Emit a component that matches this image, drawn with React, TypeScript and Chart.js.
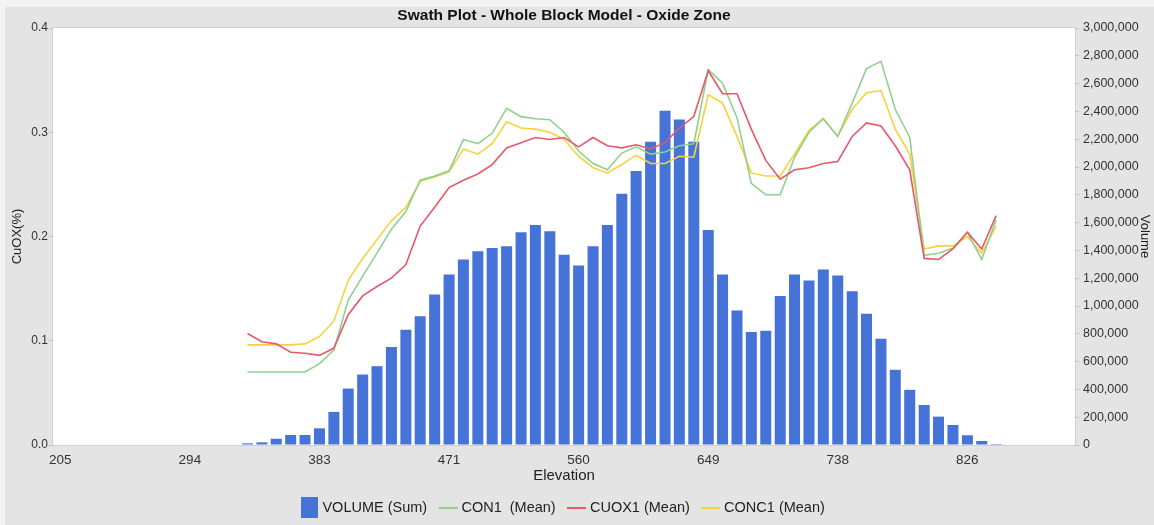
import { useEffect, useRef } from 'react';
import { Chart, registerables } from 'chart.js';

Chart.register(...registerables);

// Bin centre elevations (m)
const ELEVATION = [
  333.2, 343.1, 352.9, 362.8, 372.6, 382.5, 392.4, 402.2, 412.1, 421.9,
  431.8, 441.7, 451.5, 461.4, 471.3, 481.1, 491.0, 500.8, 510.7, 520.6,
  530.4, 540.3, 550.1, 560.0, 569.9, 579.7, 589.6, 599.4, 609.3, 619.2,
  629.0, 638.9, 648.8, 658.6, 668.5, 678.3, 688.2, 698.1, 707.9, 717.8,
  727.6, 737.5, 747.4, 757.2, 767.1, 776.9, 786.8, 796.7, 806.5, 816.4,
  826.3, 836.1, 846.0,
];

// Summed block volume per bin
const VOLUME_SUM = [
  12000, 19000, 45000, 72000, 72000, 120000, 238000, 406000, 507000, 567000,
  705000, 830000, 926000, 1082000, 1226000, 1334000, 1393000, 1418000, 1429000, 1530000,
  1582000, 1538000, 1369000, 1291000, 1429000, 1582000, 1808000, 1971000, 2182000, 2404000,
  2342000, 2182000, 1547000, 1226000, 968000, 813000, 822000, 1072000, 1226000, 1183000,
  1262000, 1219000, 1106000, 945000, 764000, 541000, 397000, 288000, 204000, 144000,
  70000, 29000, 7000,
];

// Mean grades per bin (%)
const CON1_MEAN = [
  0.070, 0.070, 0.070, 0.070, 0.070, 0.078, 0.091, 0.139, 0.162, 0.184,
  0.207, 0.224, 0.254, 0.258, 0.263, 0.293, 0.289, 0.299, 0.323, 0.315,
  0.313, 0.312, 0.300, 0.282, 0.270, 0.264, 0.280, 0.286, 0.279, 0.281,
  0.287, 0.289, 0.360, 0.347, 0.314, 0.251, 0.240, 0.240, 0.276, 0.300,
  0.313, 0.296, 0.328, 0.361, 0.368, 0.322, 0.295, 0.182, 0.184, 0.189,
  0.204, 0.178, 0.216,
];

const CUOX1_MEAN = [
  0.107, 0.099, 0.097, 0.089, 0.088, 0.086, 0.093, 0.125, 0.143, 0.152,
  0.160, 0.173, 0.210, 0.228, 0.247, 0.254, 0.260, 0.269, 0.285, 0.290,
  0.295, 0.293, 0.295, 0.286, 0.295, 0.287, 0.285, 0.288, 0.284, 0.290,
  0.304, 0.315, 0.359, 0.337, 0.337, 0.303, 0.273, 0.255, 0.264, 0.266,
  0.270, 0.272, 0.296, 0.309, 0.306, 0.287, 0.264, 0.179, 0.178, 0.188,
  0.204, 0.188, 0.220,
];

const CONC1_MEAN = [
  0.096, 0.096, 0.096, 0.096, 0.097, 0.104, 0.119, 0.158, 0.179, 0.197,
  0.215, 0.228, 0.253, 0.257, 0.262, 0.284, 0.279, 0.289, 0.310, 0.304,
  0.303, 0.300, 0.293, 0.277, 0.266, 0.261, 0.269, 0.278, 0.270, 0.270,
  0.277, 0.276, 0.336, 0.328, 0.296, 0.261, 0.258, 0.258, 0.279, 0.302,
  0.313, 0.296, 0.322, 0.338, 0.340, 0.303, 0.279, 0.188, 0.191, 0.191,
  0.200, 0.184, 0.210,
];

const X_TICKS = [205, 293.75, 382.5, 471.25, 560, 648.75, 737.5, 826.25];
const X_TICK_LABELS = ['205', '294', '383', '471', '560', '649', '738', '826'];
const CUOX_TICKS = [0, 0.1, 0.2, 0.3, 0.4];
const VOLUME_TICKS = [
  0, 200000, 400000, 600000, 800000, 1000000, 1200000, 1400000,
  1600000, 1800000, 2000000, 2200000, 2400000, 2600000, 2800000, 3000000,
];

const FONT = "'Liberation Sans', Arial, Helvetica, sans-serif";
const BAR_BLUE = '#4673d8';
const GREEN = '#8fd08f';
const RED = '#e8576a';
const YELLOW = '#f6d23c';

function rectSwatch(w: number, h: number, color: string) {
  const c = document.createElement('canvas');
  c.width = w;
  c.height = h;
  const g = c.getContext('2d')!;
  g.fillStyle = color;
  g.fillRect(0, 0, w, h);
  return c;
}

function lineSwatch(w: number, color: string) {
  const c = document.createElement('canvas');
  c.width = w;
  c.height = 2;
  const g = c.getContext('2d')!;
  g.fillStyle = color;
  g.fillRect(0, 0, w, 2);
  return c;
}

// Grey panel behind the chart with a white plotting area
const panelPlugin = {
  id: 'swathPanel',
  beforeDraw(chart: any) {
    const { ctx, chartArea: a, width, height } = chart;
    ctx.save();
    ctx.fillStyle = '#f3f3f3';
    ctx.fillRect(0, 0, width, height);
    ctx.fillStyle = '#e4e4e4';
    ctx.fillRect(5, 7, width - 5, height - 7);
    ctx.fillStyle = '#ffffff';
    ctx.fillRect(a.left, a.top, a.right - a.left, a.bottom - a.top);
    ctx.strokeStyle = '#d2d2d2';
    ctx.lineWidth = 1;
    ctx.strokeRect(a.left - 0.5, a.top - 0.5, a.right - a.left + 1, a.bottom - a.top + 1);
    ctx.restore();
  },
};

export default function App() {
  const canvasRef = useRef<HTMLCanvasElement>(null);

  useEffect(() => {
    const canvas = canvasRef.current;
    if (!canvas) return;

    const swatches = [
      rectSwatch(17, 21, BAR_BLUE),
      lineSwatch(19, GREEN),
      lineSwatch(19, RED),
      lineSwatch(19, YELLOW),
    ];

    const toPoints = (ys: number[]) => ELEVATION.map((x, i) => ({ x, y: ys[i] }));

    const chart = new Chart(canvas, {
      type: 'bar',
      data: {
        datasets: [
          {
            type: 'bar',
            label: 'VOLUME (Sum)',
            data: toPoints(VOLUME_SUM),
            yAxisID: 'y1',
            backgroundColor: BAR_BLUE,
            borderWidth: 0,
            categoryPercentage: 1,
            barPercentage: 0.77,
            order: 10,
          },
          {
            type: 'line',
            label: 'CON1  (Mean)',
            data: toPoints(CON1_MEAN),
            yAxisID: 'y',
            borderColor: GREEN,
            backgroundColor: GREEN,
            borderWidth: 1.6,
            pointRadius: 0,
            tension: 0,
            order: 2,
          },
          {
            type: 'line',
            label: 'CUOX1 (Mean)',
            data: toPoints(CUOX1_MEAN),
            yAxisID: 'y',
            borderColor: RED,
            backgroundColor: RED,
            borderWidth: 1.6,
            pointRadius: 0,
            tension: 0,
            order: 1,
          },
          {
            type: 'line',
            label: 'CONC1 (Mean)',
            data: toPoints(CONC1_MEAN),
            yAxisID: 'y',
            borderColor: YELLOW,
            backgroundColor: YELLOW,
            borderWidth: 1.6,
            pointRadius: 0,
            tension: 0,
            order: 3,
          },
        ] as any,
      },
      options: {
        responsive: false,
        animation: false,
        devicePixelRatio: 1,
        layout: { padding: 0 },
        plugins: {
          title: {
            display: true,
            text: 'Swath Plot - Whole Block Model - Oxide Zone',
            fullSize: false,
            color: '#111',
            font: { family: FONT, size: 15.5, weight: 'bold' },
            padding: { top: 6.7, bottom: 2.7 },
          },
          legend: {
            position: 'bottom',
            fullSize: false,
            labels: {
              usePointStyle: true,
              pointStyleWidth: 12,
              padding: 15,
              color: '#222',
              font: { family: FONT, size: 14.5 },
              generateLabels: (ch: any) =>
                ch.data.datasets.map((ds: any, i: number) => ({
                  text: ds.label,
                  fillStyle: ds.backgroundColor,
                  strokeStyle: ds.backgroundColor,
                  lineWidth: 0,
                  pointStyle: swatches[i],
                  hidden: false,
                  datasetIndex: i,
                  fontColor: '#222',
                })),
            },
          },
          tooltip: { enabled: false },
        },
        scales: {
          x: {
            type: 'linear',
            position: 'bottom',
            min: 200,
            max: 900,
            offset: false,
            grid: { display: false, drawTicks: false },
            border: { display: false },
            afterBuildTicks: (s: any) => {
              s.ticks = X_TICKS.map((v) => ({ value: v }));
            },
            ticks: {
              padding: 7,
              autoSkip: false,
              maxRotation: 0,
              color: '#333',
              font: { family: FONT, size: 13.5 },
              callback: (_v: any, i: number) => X_TICK_LABELS[i],
            },
            title: {
              display: true,
              text: 'Elevation',
              color: '#222',
              font: { family: FONT, size: 15 },
              padding: { top: 0, bottom: 0.5 },
            },
            afterFit: (s: any) => {
              s.height = 40.5;
            },
          },
          y: {
            type: 'linear',
            position: 'left',
            min: 0,
            max: 0.4,
            afterBuildTicks: (s: any) => {
              s.ticks = CUOX_TICKS.map((v) => ({ value: v }));
            },
            grid: { drawOnChartArea: false, drawTicks: true, tickLength: 4, color: '#c4c4c4' },
            border: { display: false },
            ticks: {
              padding: 1,
              color: '#333',
              font: { family: FONT, size: 12 },
              callback: (v: any) => Number(v).toFixed(1),
            },
            title: {
              display: true,
              text: 'CuOX(%)',
              color: '#222',
              font: { family: FONT, size: 13 },
              padding: { top: 10, bottom: 0 },
            },
            afterFit: (s: any) => {
              s.width = 53;
            },
          },
          y1: {
            type: 'linear',
            position: 'right',
            min: 0,
            max: 3000000,
            afterBuildTicks: (s: any) => {
              s.ticks = VOLUME_TICKS.map((v) => ({ value: v }));
            },
            grid: { drawOnChartArea: false, drawTicks: true, tickLength: 4, color: '#c4c4c4' },
            border: { display: false },
            ticks: {
              padding: 4,
              color: '#333',
              font: { family: FONT, size: 12.5 },
              callback: (v: any) => Number(v).toLocaleString('en-US'),
            },
            title: {
              display: true,
              text: 'Volume',
              color: '#222',
              font: { family: FONT, size: 13 },
              padding: { top: 1.2, bottom: 0 },
            },
            afterFit: (s: any) => {
              s.width = 79;
            },
          },
        },
      } as any,
      plugins: [panelPlugin],
    });

    return () => chart.destroy();
  }, []);

  return (
    <div style={{ position: 'fixed', left: 0, top: 0, width: 1154, height: 525 }}>
      <canvas
        ref={canvasRef}
        width={1154}
        height={525}
        style={{ display: 'block', width: 1154, height: 525 }}
      />
    </div>
  );
}
